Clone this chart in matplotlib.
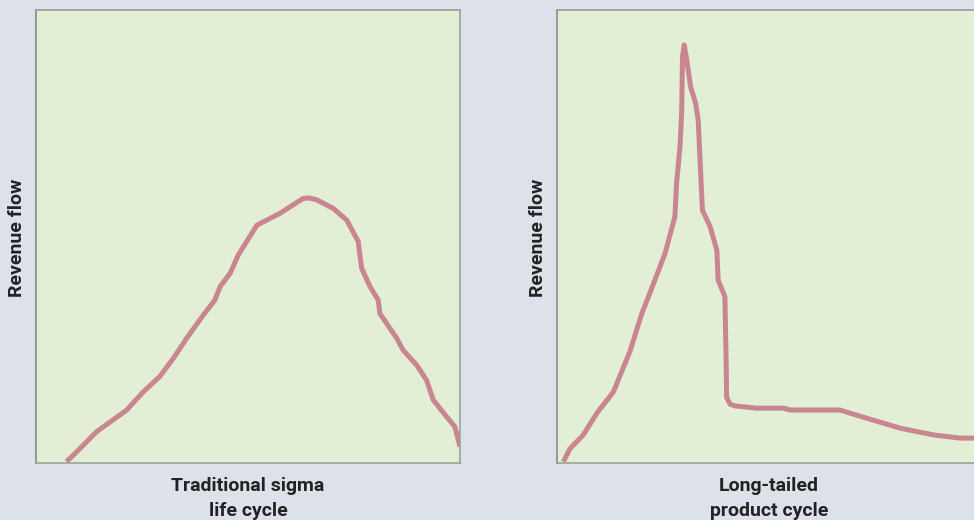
import matplotlib
matplotlib.use("Agg")
import matplotlib.pyplot as plt

# Traditional sigma life cycle (axis units 0-100)
left_x = [7.2, 9.2, 14.3, 21.4, 25.3, 29.2, 32.4, 35.5, 39.5, 42.2, 43.4, 45.8, 47.7,
          52.1, 57.5, 61.0, 63.0, 64.5, 66.2, 70.1, 73.3, 76.0, 76.8, 78.8, 80.7, 81.1,
          85.1, 86.6, 89.8, 92.1, 93.7, 96.5, 98.8, 100.0]
left_y = [0.3, 2.1, 6.9, 11.7, 15.7, 19.1, 23.1, 27.5, 32.7, 36.0, 38.9, 41.9, 45.9,
          52.5, 55.1, 57.2, 58.4, 58.5, 58.1, 56.2, 53.6, 48.9, 43.0, 38.9, 36.0, 33.0,
          27.5, 24.9, 21.6, 18.3, 13.9, 10.6, 8.0, 3.6]

# Long-tailed product cycle
right_x = [1.5, 3.1, 6.2, 9.4, 13.3, 17.2, 20.0, 21.9, 25.5, 27.8, 28.2, 29.0, 29.4, 29.6,
           30.0, 30.6, 31.5, 32.7, 33.3, 33.7, 34.3, 36.1, 37.7, 38.0, 39.6, 39.9, 40.0,
           40.8, 42.0, 47.1, 53.4, 55.0, 66.7, 73.0, 80.9, 88.8, 95.0, 98.3, 100.0]
right_y = [0.3, 3.2, 6.2, 11.0, 15.7, 24.6, 33.0, 37.5, 46.3, 54.4, 61.7, 69.8, 77.2, 89.7,
           92.3, 89.0, 83.1, 79.4, 75.7, 67.6, 55.8, 52.2, 47.0, 40.4, 36.7, 22.0, 14.5,
           13.0, 12.6, 12.1, 12.1, 11.7, 11.7, 9.9, 7.7, 6.2, 5.5, 5.5, 5.5]

ylabel = "Revenue flow"
xlabels = [["Traditional sigma", "life cycle"], ["Long-tailed", "product cycle"]]

FIG_BG = "#dde2ea"
AX_BG = "#e2efd5"
LINE = "#c98690"
TEXT = "#222222"

plt.rcParams['font.family'] = ['Roboto', 'DejaVu Sans']

fig = plt.figure(figsize=(9.74, 5.2), dpi=100)
fig.patch.set_facecolor(FIG_BG)

W, H = 974, 520
def rect(l, t, r, b):
    return [l / W, 1 - b / H, (r - l) / W, (b - t) / H]

axes = [fig.add_axes(rect(36, 10, 460, 463)), fig.add_axes(rect(557, 10, 981, 463))]
data = [(left_x, left_y), (right_x, right_y)]
centers = [248, 769]

for ax, (xs, ys), lines, cx in zip(axes, data, xlabels, centers):
    ax.set_facecolor(AX_BG)
    ax.plot(xs, ys, color=LINE, lw=3.6, solid_capstyle='butt', solid_joinstyle='round')
    ax.set_xlim(0, 100)
    ax.set_ylim(0, 100)
    ax.set_xticks([])
    ax.set_yticks([])
    ax.spines['top'].set_color('#9a9a9a')
    ax.spines['left'].set_color('#8a8a8a')
    ax.spines['bottom'].set_color('#9aa39a')
    ax.spines['right'].set_color('#9aa39a')
    for s in ax.spines.values():
        s.set_linewidth(1.2)
    for line, by in zip(lines, [491, 516]):
        fig.text(cx / W, 1 - by / H, line, ha='center', va='baseline', fontsize=14,
                 fontweight='bold', color=TEXT)

for x in (22, 543):
    fig.text(x / W, 1 - 238 / H, ylabel, rotation=90, ha='center', va='baseline',
             fontsize=14, fontweight='bold', color=TEXT, rotation_mode='anchor')

fig.savefig("out.png", dpi=100, facecolor=FIG_BG)
